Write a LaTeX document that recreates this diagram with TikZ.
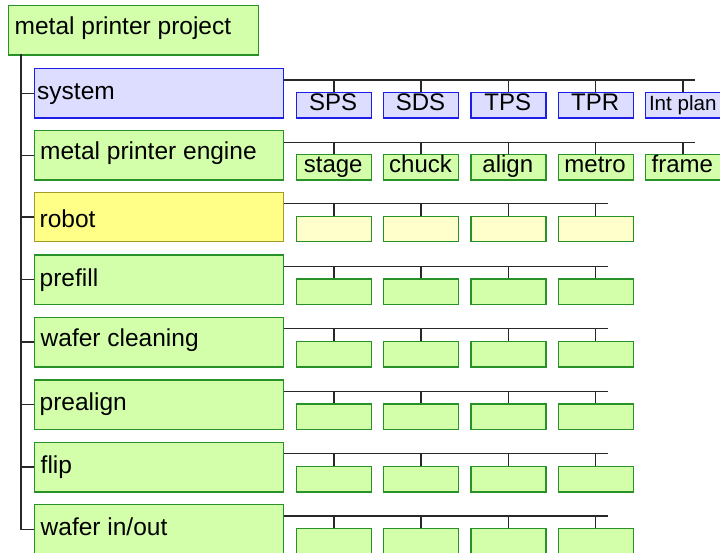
\documentclass[tikz,border=0pt]{standalone}
\usepackage{fontspec}
\setmainfont{Liberation Sans}
\definecolor{gfill}{RGB}{212,255,170}
\definecolor{gline}{RGB}{40,145,40}
\definecolor{bfill}{RGB}{221,222,255}
\definecolor{bline}{RGB}{30,30,235}
\definecolor{yfill}{RGB}{255,255,136}
\definecolor{yline}{RGB}{165,155,45}
\definecolor{pyfill}{RGB}{255,255,204}
\definecolor{conn}{RGB}{40,40,40}
\tikzset{
  box/.style={draw, rectangle, line width=1.3pt, inner sep=0pt, anchor=north west},
  bigbox/.style={box, minimum width=249pt, minimum height=49.5pt},
  smallbox/.style={box, minimum width=75pt, minimum height=25.5pt},
  gbox/.style={fill=gfill, draw=gline},
  bbox/.style={fill=bfill, draw=bline},
  ybox/.style={fill=yfill, draw=yline},
  pybox/.style={fill=pyfill, draw=gline},
  bigtxt/.style={anchor=base west, inner sep=0pt, font=\fontsize{24.5}{28}\selectfont},
  smalltxt/.style={anchor=base, inner sep=0pt, font=\fontsize{24}{28}\selectfont},
  tinytxt/.style={anchor=base, inner sep=0pt, font=\fontsize{20.6}{24}\selectfont},
  link/.style={draw=conn, line width=1.4pt},
}
\begin{document}
\begin{tikzpicture}[x=1pt,y=-1pt]
\useasboundingbox (0,0) rectangle (720,553);
\clip (0,0) rectangle (720,553);

% root
\node[bigbox, gbox, minimum width=250pt] (root) at (8,5) {};
\node[bigtxt] (roott) at (14.5,35) {metal printer project};

% children
\node[bigbox, bbox] (c1) at (34,68) {};
\node[bigtxt] (t1) at (37,100) {system};
\node[bigbox, gbox] (c2) at (34,130) {};
\node[bigtxt] (t2) at (40,159.3) {metal printer engine};
\node[bigbox, ybox] (c3) at (34,191.7) {};
\node[bigtxt] (t3) at (39.5,227.7) {robot};
\node[bigbox, gbox] (c4) at (34,254.3) {};
\node[bigtxt] (t4) at (39.5,286.7) {prefill};
\node[bigbox, gbox] (c5) at (34,316.7) {};
\node[bigtxt] (t5) at (40.5,346.7) {wafer cleaning};
\node[bigbox, gbox] (c6) at (34,379.3) {};
\node[bigtxt] (t6) at (39.5,410) {prealign};
\node[bigbox, gbox] (c7) at (34,441.7) {};
\node[bigtxt] (t7) at (40.5,473.3) {flip};
\node[bigbox, gbox] (c8) at (34,504) {};
\node[bigtxt] (t8) at (40.5,535.3) {wafer in/out};

% trunk and ticks
\coordinate (trunktop) at (21,54.5);
\draw[link] (trunktop) |- (c8.west);
\foreach \i in {1,...,7} {
  \draw[link] (trunktop |- c\i.west) -- (c\i.west);
}

% grandchildren: system
\foreach \j/\lab in {1/SPS,2/SDS,3/TPS,4/TPR} {
  \node[smallbox, bbox] (g1-\j) at ({295.7+87.3*(\j-1)},92) {};
  \node[smalltxt] (gt1-\j) at ({333.2+87.3*(\j-1)},111) {\lab};
}
\node[smallbox, bbox] (g1-5) at (645,92) {};
\node[tinytxt] (gt1-5) at (682.8,110.3) {Int plan};

% grandchildren: engine
\foreach \j/\lab in {1/stage,2/chuck,3/align,4/metro,5/frame} {
  \node[smallbox, gbox] (g2-\j) at ({295.7+87.3*(\j-1)},154) {};
  \node[smalltxt] (gt2-\j) at ({333.2+87.3*(\j-1)},173) {\lab};
}

% buses rows 1 and 2
\coordinate (e1) at (695,80);
\coordinate (e2) at (695,142.5);
\foreach \i in {1,2} {
  \draw[link] (c\i.east |- e\i) -- (e\i);
  \foreach \j in {1,...,5} {
    \draw[link] (g\i-\j.north) -- (g\i-\j.north |- e\i);
  }
}

% rows 3..8: four empty boxes each
\foreach \i/\top/\sty in {3/191.7/pybox,4/254.3/gbox,5/316.7/gbox,6/379.3/gbox,7/441.7/gbox,8/504/gbox} {
  \coordinate (e\i) at (608,\top+12);
  \draw[link] (c\i.east |- e\i) -- (e\i);
  \foreach \j in {1,...,4} {
    \node[smallbox, \sty] (g\i-\j) at ({295.7+87.3*(\j-1)},\top+24) {};
    \draw[link] (g\i-\j.north) -- (g\i-\j.north |- e\i);
  }
}
\end{tikzpicture}
\end{document}
